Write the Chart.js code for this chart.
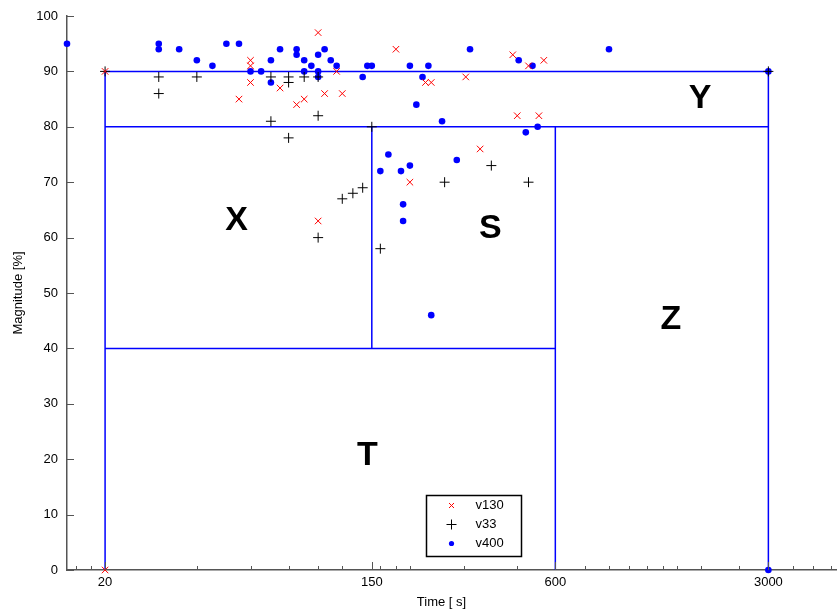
<!DOCTYPE html>
<html><head><meta charset="utf-8">
<script src="https://cdn.jsdelivr.net/npm/chart.js@4.4.1/dist/chart.umd.min.js"></script>
<style>html,body{margin:0;padding:0;background:#fff;}canvas{display:block;}</style>
</head><body>
<canvas id="c" width="837" height="611"></canvas>
<script>
// ---- data ----
const v130X = [20,60,60,60,55,75,85,90,100,105,115,120,180,225,235,305,435,490,550,450,530,100,200,340,20];
const v130Y = [90,92,91,88,85,87,84,85,97,86,90,86,94,88,88,89,93,91,92,82,82,63,70,76,0];

const v33X = [20,30,30,40,70,70,80,80,80,90,100,100,100,120,130,140,150,160,260,370,490,3000];
const v33Y = [90,89,86,89,89,81,89,88,78,89,89,82,60,67,68,69,80,58,70,73,70,90];

const v400X = [15,30,30,35,40,45,50,55,60,65,70,70,75,85,85,90,90,95,100,100,100,105,110,115,140,145,150,200,230,220,210,255,315,455,505,480,525,900,3000,170,160,187,200,285,190,190,235,3000];
const v400Y = [95,95,94,94,92,91,95,95,90,90,92,88,94,94,93,92,90,91,93,90,89,94,92,91,89,91,91,91,91,89,84,81,94,92,91,79,80,94,90,75,72,72,73,74,66,63,46,0];

// region boundaries (null = break)
const regionX = [20,20,3000,3000,null,20,3000,null,20,600,null,600,600,null,150,150];
const regionY = [0,90,90,0,null,80,80,null,40,40,null,0,80,null,40,80];

// region names and their anchor values
const regionNames = ['X','Y','S','Z','T'];
const regionLabelX = [54,1790,367,1436,145];
const regionLabelY = [63,85,61.6,45.2,20.6];

// axis ticks
const xTickLabels = [20,150,600,3000];
const xMinorTicks = [16,18,40,60,80,100,120,160,180,200,300,450,750,900,1050,1200,1350,1500,1800,2400,3600,4200,4800];
const yTicks = [0,10,20,30,40,50,60,70,80,90,100];

const seriesNames = ['v130','v33','v400'];

function pts(xs, ys){ return xs.map((x,i)=>({x:x, y:ys[i]})); }
function gapPts(xs, ys){
  const out=[]; let lastX = xs[0];
  for(let i=0;i<xs.length;i++){
    if(xs[i]===null){ out.push({x:lastX, y:null}); }
    else { out.push({x:xs[i], y:ys[i]}); lastX = xs[i]; }
  }
  return out;
}

const FONT = '"Liberation Sans", Arial, Helvetica, sans-serif';

const decor = {
  id:'decor',
  afterDraw(chart){
    const {ctx, chartArea:ca, scales:{x,y}} = chart;
    ctx.save();
    // inward ticks
    ctx.strokeStyle = '#555'; ctx.lineWidth = 1;
    yTicks.forEach(v=>{
      const py = Math.round(y.getPixelForValue(v))+0.5;
      ctx.beginPath(); ctx.moveTo(ca.left, py); ctx.lineTo(ca.left+7, py); ctx.stroke();
    });
    xTickLabels.forEach(v=>{
      const px = Math.round(x.getPixelForValue(v))+0.5;
      ctx.beginPath(); ctx.moveTo(px, ca.bottom); ctx.lineTo(px, ca.bottom-8); ctx.stroke();
    });
    xMinorTicks.forEach(v=>{
      const px = Math.round(x.getPixelForValue(v))+0.5;
      ctx.beginPath(); ctx.moveTo(px, ca.bottom); ctx.lineTo(px, ca.bottom-4); ctx.stroke();
    });
    // region labels
    ctx.fillStyle = '#000';
    ctx.font = 'bold 34px ' + FONT;
    ctx.textAlign = 'center'; ctx.textBaseline = 'middle';
    regionNames.forEach((t,i)=>{
      ctx.fillText(t, x.getPixelForValue(regionLabelX[i]), y.getPixelForValue(regionLabelY[i]));
    });
    // axis titles
    ctx.font = '13px ' + FONT;
    ctx.fillStyle = '#000';
    ctx.textAlign = 'center'; ctx.textBaseline = 'middle';
    ctx.fillText('Time [ s]', ca.left + (ca.right-ca.left)*0.487, ca.bottom + 32);
    ctx.save();
    ctx.translate(18, (ca.top+ca.bottom)/2);
    ctx.rotate(-Math.PI/2);
    ctx.fillText('Magnitude [%]', 0, 0);
    ctx.restore();
    // legend box
    const bx = 426.5, by = 495.5, bw = 95, bh = 61;
    ctx.fillStyle = '#fff'; ctx.fillRect(bx,by,bw,bh);
    ctx.strokeStyle = '#000'; ctx.lineWidth = 1.5; ctx.strokeRect(bx,by,bw,bh);
    ctx.font = '13px ' + FONT; ctx.textAlign='left'; ctx.textBaseline='middle';
    const ds = chart.data.datasets;
    for(let i=0;i<3;i++){
      const cy = by + 10 + i*19, cx = bx + 25;
      const d = ds[i];
      ctx.strokeStyle = d.borderColor; ctx.fillStyle = d.backgroundColor; ctx.lineWidth = 1;
      if(d.pointStyle==='crossRot'){
        const r=2.5; ctx.beginPath(); ctx.moveTo(cx-r,cy-r); ctx.lineTo(cx+r,cy+r); ctx.moveTo(cx+r,cy-r); ctx.lineTo(cx-r,cy+r); ctx.stroke();
      } else if(d.pointStyle==='cross'){
        const r=5; ctx.beginPath(); ctx.moveTo(cx-r,cy); ctx.lineTo(cx+r,cy); ctx.moveTo(cx,cy-r); ctx.lineTo(cx,cy+r); ctx.stroke();
      } else {
        ctx.beginPath(); ctx.arc(cx,cy,2.6,0,Math.PI*2); ctx.fill();
      }
      ctx.fillStyle = '#000';
      ctx.fillText(d.label, bx + 49, cy);
    }
    ctx.restore();
  }
};

new Chart(document.getElementById('c'), {
  type:'scatter',
  data:{ datasets:[
    {label:seriesNames[0], data:pts(v130X,v130Y), pointStyle:'crossRot', pointRadius:4.6, pointHoverRadius:4.6,
     borderColor:'#ff0000', backgroundColor:'#ff0000', borderWidth:1, order:1, clip:false},
    {label:seriesNames[1], data:pts(v33X,v33Y), pointStyle:'cross', pointRadius:5, pointHoverRadius:5,
     borderColor:'#000000', backgroundColor:'#000000', borderWidth:1, order:2, clip:false},
    {label:seriesNames[2], data:pts(v400X,v400Y), pointStyle:'circle', pointRadius:3.3, pointHoverRadius:3.3,
     borderColor:'#0000ff', backgroundColor:'#0000ff', borderWidth:0, order:3, clip:false},
    {label:'regions', data:gapPts(regionX,regionY), showLine:true, spanGaps:false, pointRadius:0,
     borderColor:'#0000ff', borderWidth:1.5, fill:false, order:10}
  ]},
  options:{
    responsive:false, animation:false, devicePixelRatio:1,
    layout:{autoPadding:false, padding:{top:16,right:1,left:0,bottom:0}},
    plugins:{legend:{display:false}, tooltip:{enabled:false}},
    scales:{
      x:{type:'logarithmic', min:15, max:5000,
        afterBuildTicks:(s)=>{ s.ticks = xTickLabels.map(v=>({value:v})); },
        afterFit:(s)=>{ s.height = 41; s.paddingLeft = 0; s.paddingRight = 0; },
        grid:{display:false, drawTicks:false},
        border:{display:true, color:'#555', width:1.5},
        ticks:{padding:5, color:'#000', font:{family:FONT, size:13}, maxRotation:0, autoSkip:false,
          callback:(v)=>String(v)}
      },
      y:{type:'linear', min:0, max:100,
        afterBuildTicks:(s)=>{ s.ticks = yTicks.map(v=>({value:v})); },
        afterFit:(s)=>{ s.width = 67; s.paddingTop = 0; s.paddingBottom = 0; },
        grid:{display:false, drawTicks:false},
        border:{display:true, color:'#555', width:1.5},
        ticks:{padding:9, color:'#000', font:{family:FONT, size:13}}
      }
    }
  },
  plugins:[decor]
});
</script>
</body></html>
